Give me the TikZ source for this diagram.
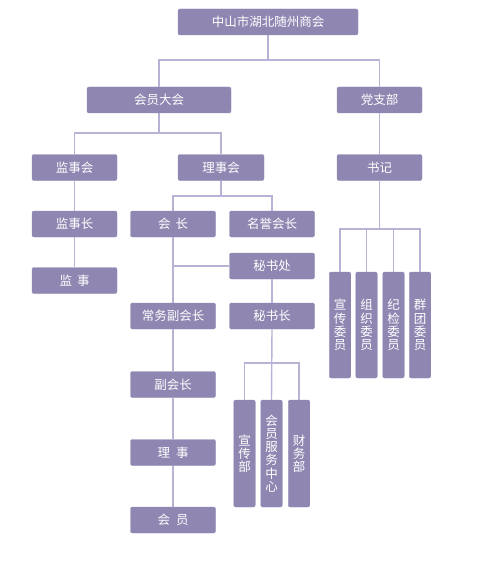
\documentclass[tikz,border=0pt]{standalone}
\usepackage{fontspec}
\newfontfamily\cjk{Noto Sans CJK SC}
\usetikzlibrary{calc}
\definecolor{boxfill}{HTML}{8F86B1}
\definecolor{linkline}{HTML}{BAB2D6}

\tikzset{
  orgbox/.style={draw=boxfill, fill=boxfill, rounded corners=2pt, text=white,
    font=\cjk\fontsize{12.5}{14}\selectfont, minimum height=26pt,
    minimum width=85pt, inner sep=0pt},
  vbox/.style={orgbox, minimum width=21.5pt, text width=14pt, align=center,
    font=\cjk\fontsize{12.5}{13.2}\selectfont},
  link/.style={draw=linkline, line width=1.4pt}
}

\begin{document}
\begin{tikzpicture}[x=1pt, y=-1pt]
    \useasboundingbox (0,0) rectangle (484,567);

    % 顶层
    \node[orgbox, minimum width=180pt] (top) at (268,22) {中山市湖北随州商会};
    \node[orgbox, minimum width=144pt] (hydh) at (159,100) {会员大会};
    \node[orgbox] (dzb) at (379.5,100) {党支部};

    % 会员大会下属
    \node[orgbox] (jsh) at (74.5,167.5) {监事会};
    \node[orgbox, minimum width=86pt] (lsh) at (221,167.5) {理事会};
    \node[orgbox] (jsz) at (74.5,224) {监事长};
    \node[orgbox] (js) at (74.5,280.5) {监\hspace{5pt}事};

    % 理事会下属
    \node[orgbox] (hz) at (173,224) {会\hspace{5pt}长};
    \node[orgbox] (myhz) at (272,224) {名誉会长};
    \node[orgbox] (msc) at (272,266) {秘书处};
    \node[orgbox] (cwfhz) at (173,316) {常务副会长};
    \node[orgbox] (msz) at (272,316) {秘书长};
    \node[orgbox] (fhz) at (173,384.5) {副会长};
    \node[orgbox] (ls) at (173,452.5) {理\hspace{6pt}事};
    \node[orgbox] (hy) at (173,520) {会\hspace{6pt}员};

    % 秘书长下属
    \node[vbox, minimum height=107pt] (xcb) at (244.5,453.5) {宣\\传\\部};
    \node[vbox, minimum height=107pt] (hyfw) at (271.5,453.5) {会\\员\\服\\务\\中\\心};
    \node[vbox, minimum height=107pt] (cwb) at (299,453.5) {财\\务\\部};

    % 党支部下属
    \node[orgbox] (sj) at (379.5,167.5) {书记};
    \node[vbox, minimum height=106pt] (xcwy) at (340,325) {宣\\传\\委\\员};
    \node[vbox, minimum height=106pt] (zzwy) at (366.5,325) {组\\织\\委\\员};
    \node[vbox, minimum height=106pt] (jjwy) at (393.5,325) {纪\\检\\委\\员};
    \node[vbox, minimum height=106pt] (qtwy) at (420,325) {群\\团\\委\\员};

    % 连线
    \coordinate (j1) at (268,60);
    \coordinate (j2) at (159,133);
    \coordinate (j3) at (221,196);
    \coordinate (j4) at (173,266);
    \coordinate (j5) at (272,363);
    \coordinate (j6) at (379.5,229);
    \draw[link] (top.south) -- (j1);
    \draw[link] (hydh.north) |- (j1) -| (dzb.north);
    \draw[link] (hydh.south) -- (j2);
    \draw[link] (jsh.north) |- (j2) -| (lsh.north);
    \draw[link] (jsh.south) -- (jsz.north);
    \draw[link] (jsz.south) -- (js.north);
    \draw[link] (lsh.south) -- (j3);
    \draw[link] (hz.north) |- (j3) -| (myhz.north);
    \draw[link] (hz.south) -- (cwfhz.north);
    \draw[link] (j4) -- (msc.west);
    \draw[link] (msc.south) -- (msz.north);
    \draw[link] (cwfhz.south) -- (fhz.north);
    \draw[link] (fhz.south) -- (ls.north);
    \draw[link] (ls.south) -- (hy.north);
    \draw[link] (msz.south) -- (hyfw.north);
    \draw[link] (xcb.north) |- (j5) -| (cwb.north);
    \draw[link] (dzb.south) -- (sj.north);
    \draw[link] (sj.south) -- (j6);
    \draw[link] (xcwy.north) |- (j6) -| (qtwy.north);
    \draw[link] (zzwy.north) -- (zzwy.north |- j6);
    \draw[link] (jjwy.north) -- (jjwy.north |- j6);
\end{tikzpicture}
\end{document}
